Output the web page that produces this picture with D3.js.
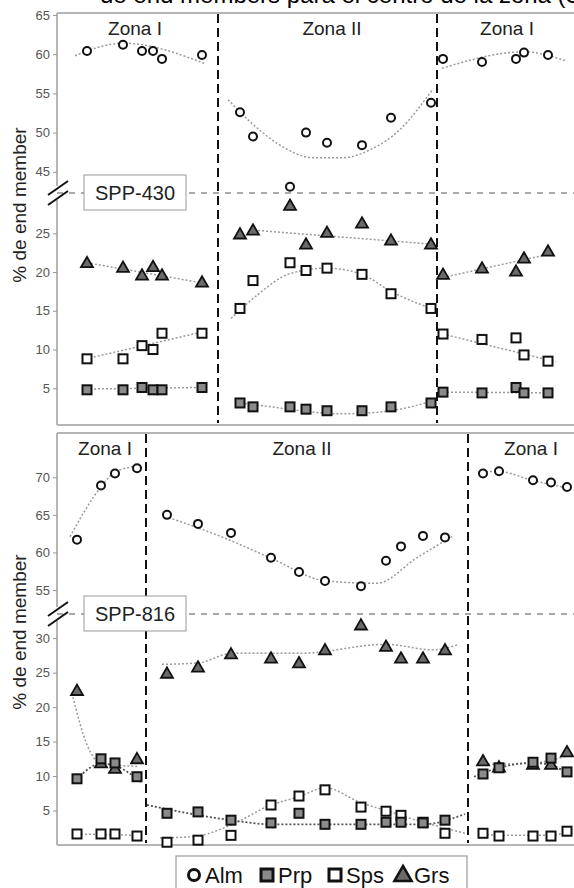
<!DOCTYPE html>
<html>
<head>
<meta charset="utf-8">
<script src="https://cdn.jsdelivr.net/npm/d3@7"></script>
<style>
body { margin: 0; background: #fff; }
svg { display: block; font-family: "Liberation Sans", Arial, sans-serif; }
</style>
</head>
<body>
<div id="chart"></div>
<script>
// ---- SPP-430 : posiciones de las muestras a lo largo del perfil ----
var pos430_z1a = [30, 66, 85, 96, 105, 145];
var pos430_z2 = [183, 196, 233, 249, 270, 305, 334, 374];
var pos430_z1b = [386, 425, 459, 467, 491];

var alm430_z1a = [60.4, 61.2, 60.4, 60.4, 59.4, 59.9];
var alm430_z2 = [52.6, 49.5, 43.1, 50.0, 48.7, 48.4, 51.9, 53.8];
var alm430_z1b = [59.4, 59.0, 59.4, 60.2, 59.9];
var prp430_z1a = [4.8, 4.8, 5.1, 4.8, 4.8, 5.1];
var prp430_z2 = [3.1, 2.6, 2.6, 2.3, 2.1, 2.1, 2.6, 3.1];
var prp430_z1b = [4.5, 4.4, 5.1, 4.4, 4.4];
var sps430_z1a = [8.8, 8.8, 10.5, 10.0, 12.1, 12.1];
var sps430_z2 = [15.3, 18.9, 21.2, 20.2, 20.5, 19.7, 17.2, 15.3];
var sps430_z1b = [12.0, 11.3, 11.5, 9.3, 8.5];
var grs430_z1a = [21.2, 20.6, 19.6, 20.7, 19.6, 18.7];
var grs430_z2 = [24.9, 25.4, 28.6, 23.6, 25.1, 26.3, 24.1, 23.6];
var grs430_z1b = [19.7, 20.5, 20.1, 21.8, 22.7];

// tendencias (x, valor)
var almTrend430_z1a = [[18, 59.8], [66, 61.4], [148, 58.8]];
var almTrend430_z2 = [[171, 54.2], [193, 51.4], [223, 48.4], [256, 46.8], [286, 46.8], [313, 47.8], [343, 50.4], [375, 55.4]];
var almTrend430_z1b = [[385, 58.2], [467, 60.3], [510, 59.1]];
var prpTrend430_z1a = [[29, 4.9], [143, 5.1]];
var prpTrend430_z2 = [[184, 3.1], [220, 2.5], [250, 2.0], [283, 1.7], [310, 1.8], [343, 2.3], [374, 3.3]];
var prpTrend430_z1b = [[386, 4.5], [491, 4.4]];
var spsTrend430_z1a = [[29, 8.8], [143, 12.2]];
var spsTrend430_z2 = [[174, 14.0], [200, 17.0], [233, 19.8], [269, 20.5], [305, 19.7], [334, 17.5], [374, 15.3]];
var spsTrend430_z1b = [[386, 12.0], [499, 8.4]];
var grsTrend430_z1a = [[30, 21.2], [145, 18.6]];
var grsTrend430_z2 = [[197, 25.4], [375, 23.6]];
var grsTrend430_z1b = [[386, 19.3], [492, 22.3]];

// ---- SPP-816 ----
var pos816_z1a = [20, 44, 58, 80];
var pos816_z2 = [110, 141, 174, 214, 242, 268, 304, 329, 344, 366, 388];
var pos816_z1b = [426, 442, 476, 494, 510];

var alm816_z1a = [61.7, 68.9, 70.5, 71.2];
var alm816_z2 = [65.0, 63.8, 62.6, 59.3, 57.4, 56.2, 55.5, 58.9, 60.8, 62.2, 62.0];
var alm816_z1b = [70.5, 70.8, 69.6, 69.3, 68.7];
var prp816_z1a = [9.6, 12.5, 11.9, 9.9];
var prp816_z2 = [4.6, 4.8, 3.6, 3.2, 4.6, 3.0, 3.0, 3.3, 3.3, 3.2, 3.6];
var prp816_z1b = [10.3, 11.2, 12.0, 12.6, 10.6];
var sps816_z1a = [1.6, 1.6, 1.6, 1.3];
var sps816_z2 = [0.4, 0.7, 1.4, 5.8, 7.1, 8.0, 5.5, 4.9, 4.3, 3.3, 1.7];
var sps816_z1b = [1.7, 1.3, 1.3, 1.3, 2.0];
var grs816_z1a = [22.4, 11.9, 11.1, 12.5];
var grs816_z2 = [24.9, 25.8, 27.7, 27.1, 26.4, 28.3, 31.9, 28.8, 27.1, 27.1, 28.3];
var grs816_z1b = [12.2, 11.3, 11.7, 11.7, 13.5];

var almTrend816_z1a = [[13, 62.1], [45, 68.9], [58, 70.7], [86, 71.6]];
var almTrend816_z2 = [[108, 64.8], [166, 62.0], [213, 59.3], [269, 56.2], [320, 55.9], [360, 59.3], [395, 62.1]];
var almTrend816_z1b = [[421, 70.7], [441, 70.8], [475, 69.6], [513, 68.5]];
var prpTrend816_z1a = [[20, 9.6], [44, 11.8], [58, 11.5], [85, 9.0]];
var prpTrend816_z2 = [[90, 5.8], [174, 3.6], [214, 3.0], [303, 3.0], [366, 3.0], [408, 4.5]];
var prpTrend816_z1b = [[417, 9.9], [442, 11.2], [476, 11.9], [494, 11.6], [510, 10.4]];
var spsTrend816_z1a = [[20, 1.6], [80, 1.4]];
var spsTrend816_z2 = [[103, 1.0], [140, 1.3], [174, 2.9], [214, 5.8], [242, 7.0], [268, 8.3], [303, 6.2], [333, 4.8], [366, 3.3], [408, 1.7]];
var spsTrend816_z1b = [[426, 1.6], [442, 1.4], [476, 1.4], [494, 1.4], [510, 1.9]];
var grsTrend816_z1a = [[15, 22.0], [31, 14.2], [43, 11.9], [80, 11.4]];
var grsTrend816_z2 = [[105, 26.2], [141, 26.4], [175, 27.8], [243, 27.8], [329, 29.1], [376, 28.3], [400, 29.0]];
var grsTrend816_z1b = [[427, 11.7], [476, 11.9], [510, 12.9]];

var ticksUp430 = [45, 50, 55, 60, 65];
var ticksLow430 = [5, 10, 15, 20, 25];
var ticksUp816 = [55, 60, 65, 70];
var ticksLow816 = [5, 10, 15, 20, 25, 30];
var zoneNames = ["Zona I", "Zona II", "Zona I"];
var legendNames = ["Alm", "Prp", "Sps", "Grs"];

var W = 574, H = 888;
var svg = d3.select("#chart").append("svg").attr("width", W).attr("height", H);

// titulo cortado arriba (solo se ve la parte baja)
svg.append("text")
	.attr("x", 100)
	.attr("y", 3)
	.style("font-size", "24px")
	.style("fill", "#000")
	.text("de end members para el centro de la zona (Sps)");

var x = d3.scaleLinear().domain([0, 517]).range([57, 574]);

function zip(xs, vs) {
	return xs.map(function (d, i) { return [d, vs[i]]; });
}

function marker(g, type, cx, cy) {
	if (type == "Alm") {
		g.append("circle").attr("cx", cx).attr("cy", cy).attr("r", 4)
			.attr("fill", "#fff").attr("stroke", "#111").attr("stroke-width", 2);
	} else if (type == "Grs") {
		g.append("path").attr("d", d3.symbol().type(d3.symbolTriangle).size(62)())
			.attr("transform", "translate(" + cx + "," + (cy + 1) + ")")
			.attr("fill", "#6a6a6a").attr("stroke", "#111").attr("stroke-width", 1.8);
	} else {
		g.append("rect").attr("x", cx - 4.5).attr("y", cy - 4.5).attr("width", 9).attr("height", 9)
			.attr("fill", type == "Prp" ? "#8a8a8a" : "#fff").attr("stroke", "#111").attr("stroke-width", 2);
	}
}

function drawPanel(p) {
	var g = svg.append("g");
	var yU = d3.scaleLinear().domain(p.upDomain).range([p.breakY, p.top]);
	var yL = d3.scaleLinear().domain(p.lowDomain).range([p.lowZero, p.breakY]);

	// marco
	g.append("line").attr("x1", 57).attr("x2", W).attr("y1", p.top).attr("y2", p.top)
		.attr("stroke", "#b5b5b5").attr("stroke-width", 2);
	g.append("line").attr("x1", 57).attr("x2", W).attr("y1", p.bottom).attr("y2", p.bottom)
		.attr("stroke", "#b5b5b5").attr("stroke-width", 2);
	g.append("line").attr("x1", 57).attr("x2", 57).attr("y1", p.top).attr("y2", p.breakY - 7)
		.attr("stroke", "#b5b5b5").attr("stroke-width", 2);
	g.append("line").attr("x1", 57).attr("x2", 57).attr("y1", p.breakY + 7).attr("y2", p.bottom)
		.attr("stroke", "#b5b5b5").attr("stroke-width", 2);

	// ejes
	[[yU, p.ticksUp], [yL, p.ticksLow]].forEach(function (a) {
		var ax = g.append("g").attr("transform", "translate(57,0)")
			.call(d3.axisLeft(a[0]).tickValues(a[1]).tickSize(4).tickPadding(3));
		ax.select(".domain").remove();
		ax.selectAll("line").attr("stroke", "#999");
		ax.selectAll("text").style("font-size", "13px").style("fill", "#555")
			.style("font-family", "Liberation Sans, Arial, sans-serif");
	});

	g.append("text")
		.attr("transform", "translate(26," + p.labelY + ") rotate(-90)")
		.attr("text-anchor", "middle")
		.style("font-size", "19px").style("fill", "#222")
		.text("% de end member");

	// linea de corte
	g.append("line").attr("x1", 57).attr("x2", W).attr("y1", p.breakY).attr("y2", p.breakY)
		.attr("stroke", "#555").attr("stroke-width", 1.2).attr("stroke-dasharray", "6,6");
	[-5, 5].forEach(function (o) {
		g.append("line").attr("x1", 48).attr("x2", 68)
			.attr("y1", p.breakY + 7 + o).attr("y2", p.breakY - 7 + o)
			.attr("stroke", "#111").attr("stroke-width", 2);
	});

	// limites de zona
	p.bounds.forEach(function (b) {
		g.append("line").attr("x1", x(b)).attr("x2", x(b)).attr("y1", p.top + 1).attr("y2", p.bottom - 2)
			.attr("stroke", "#111").attr("stroke-width", 2).attr("stroke-dasharray", "9,5");
	});

	zoneNames.forEach(function (z, i) {
		g.append("text").attr("x", x(p.zoneX[i])).attr("y", p.top + 22)
			.attr("text-anchor", "middle").style("font-size", "19px").style("fill", "#222").text(z);
	});

	// tendencias
	p.trends.forEach(function (t) {
		var sc = t.up ? yU : yL;
		var line = d3.line().x(function (d) { return x(d[0]); }).y(function (d) { return sc(d[1]); })
			.curve(d3.curveMonotoneX);
		g.append("path").attr("d", line(t.data)).attr("fill", "none")
			.attr("stroke", t.dark ? "#555" : "#9a9a9a").attr("stroke-width", t.dark ? 1.8 : 1.5)
			.attr("stroke-dasharray", "2,2");
	});

	// puntos
	p.series.forEach(function (s) {
		var sc = s.type == "Alm" ? yU : yL;
		s.data.forEach(function (d) {
			marker(g, s.type, x(d[0]), sc(d[1]));
		});
	});

	// etiqueta de muestra
	g.append("rect").attr("x", 84).attr("y", p.breakY - 18).attr("width", 102).attr("height", 35)
		.attr("fill", "#fff").attr("stroke", "#999").attr("stroke-width", 1);
	g.append("text").attr("x", 135).attr("y", p.breakY + 7).attr("text-anchor", "middle")
		.style("font-size", "20px").style("fill", "#222").text(p.name);
}

drawPanel({
	name: "SPP-430", top: 13, bottom: 425, breakY: 193, lowZero: 427,
	upDomain: [42.3, 65.25], lowDomain: [0, 30.2],
	ticksUp: ticksUp430, ticksLow: ticksLow430, labelY: 205,
	bounds: [161, 380], zoneX: [78, 275, 450],
	trends: [
		{up: true, data: almTrend430_z1a}, {up: true, data: almTrend430_z2}, {up: true, data: almTrend430_z1b},
		{data: prpTrend430_z1a}, {data: prpTrend430_z2}, {data: prpTrend430_z1b},
		{data: spsTrend430_z1a}, {data: spsTrend430_z2}, {data: spsTrend430_z1b},
		{data: grsTrend430_z1a}, {data: grsTrend430_z2}, {data: grsTrend430_z1b}
	],
	series: [
		{type: "Alm", data: zip(pos430_z1a, alm430_z1a).concat(zip(pos430_z2, alm430_z2), zip(pos430_z1b, alm430_z1b))},
		{type: "Grs", data: zip(pos430_z1a, grs430_z1a).concat(zip(pos430_z2, grs430_z2), zip(pos430_z1b, grs430_z1b))},
		{type: "Sps", data: zip(pos430_z1a, sps430_z1a).concat(zip(pos430_z2, sps430_z2), zip(pos430_z1b, sps430_z1b))},
		{type: "Prp", data: zip(pos430_z1a, prp430_z1a).concat(zip(pos430_z2, prp430_z2), zip(pos430_z1b, prp430_z1b))}
	]
});

drawPanel({
	name: "SPP-816", top: 433, bottom: 845, breakY: 614, lowZero: 845,
	upDomain: [51.8, 75.9], lowDomain: [0, 33.5],
	ticksUp: ticksUp816, ticksLow: ticksLow816, labelY: 632,
	bounds: [89, 411], zoneX: [48, 245, 474],
	trends: [
		{up: true, data: almTrend816_z1a}, {up: true, data: almTrend816_z2}, {up: true, data: almTrend816_z1b},
		{data: grsTrend816_z1a}, {data: grsTrend816_z2}, {data: grsTrend816_z1b},
		{data: spsTrend816_z1a}, {data: spsTrend816_z2}, {data: spsTrend816_z1b},
		{dark: true, data: prpTrend816_z1a}, {dark: true, data: prpTrend816_z2}, {dark: true, data: prpTrend816_z1b}
	],
	series: [
		{type: "Alm", data: zip(pos816_z1a, alm816_z1a).concat(zip(pos816_z2, alm816_z2), zip(pos816_z1b, alm816_z1b))},
		{type: "Grs", data: zip(pos816_z1a, grs816_z1a).concat(zip(pos816_z2, grs816_z2), zip(pos816_z1b, grs816_z1b))},
		{type: "Sps", data: zip(pos816_z1a, sps816_z1a).concat(zip(pos816_z2, sps816_z2), zip(pos816_z1b, sps816_z1b))},
		{type: "Prp", data: zip(pos816_z1a, prp816_z1a).concat(zip(pos816_z2, prp816_z2), zip(pos816_z1b, prp816_z1b))}
	]
});

// leyenda
var leg = svg.append("g");
leg.append("rect").attr("x", 176).attr("y", 856).attr("width", 291).attr("height", 40)
	.attr("fill", "#fff").attr("stroke", "#999").attr("stroke-width", 1.2);
var legX = [194, 267, 335, 403];
legendNames.forEach(function (n, i) {
	var cx = legX[i], cy = 875;
	if (n == "Alm") {
		leg.append("circle").attr("cx", cx).attr("cy", cy).attr("r", 5.5)
			.attr("fill", "#fff").attr("stroke", "#111").attr("stroke-width", 3);
	} else if (n == "Grs") {
		leg.append("path").attr("d", d3.symbol().type(d3.symbolTriangle).size(130)())
			.attr("transform", "translate(" + cx + "," + (cy + 1) + ")")
			.attr("fill", "#6a6a6a").attr("stroke", "#111").attr("stroke-width", 2.5);
	} else {
		leg.append("rect").attr("x", cx - 6).attr("y", cy - 6).attr("width", 12).attr("height", 12)
			.attr("fill", n == "Prp" ? "#8a8a8a" : "#fff").attr("stroke", "#111").attr("stroke-width", 3);
	}
	leg.append("text").attr("x", cx + 11).attr("y", cy + 8)
		.style("font-size", "22px").style("fill", "#111").text(n);
});
</script>
</body>
</html>
